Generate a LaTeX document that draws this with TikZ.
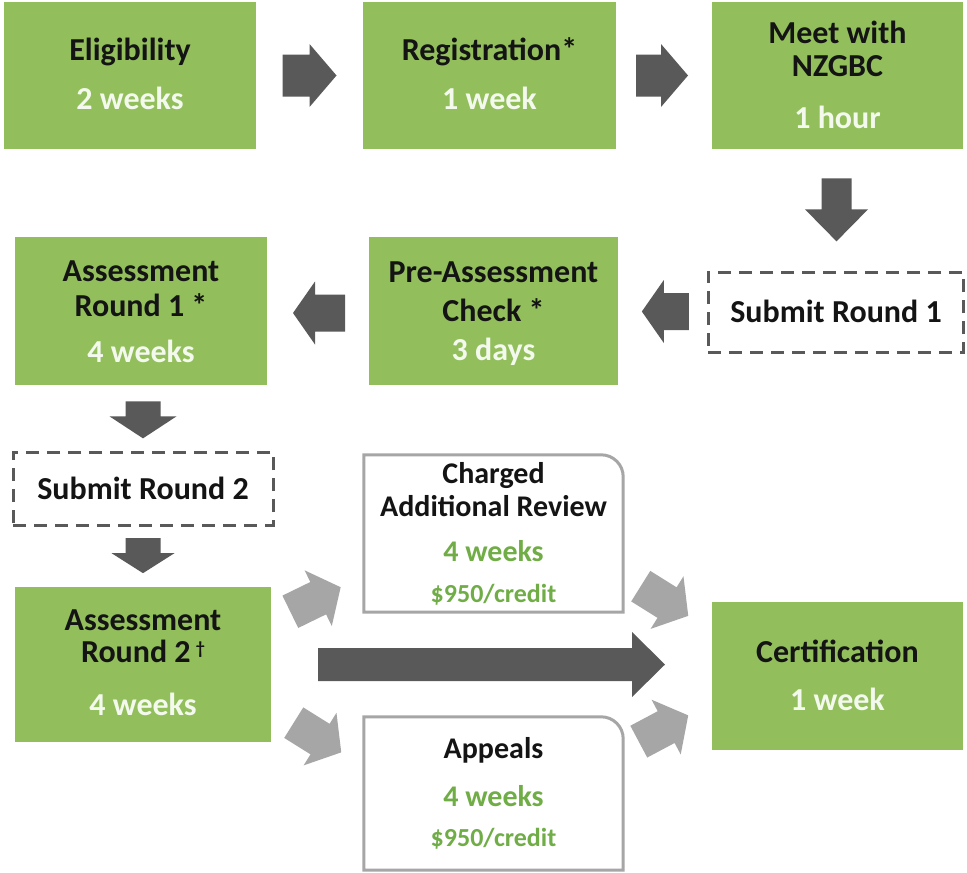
\documentclass[tikz,border=0pt]{standalone}
\usepackage{fontspec}
\setmainfont{Carlito}
\usetikzlibrary{calc}
\definecolor{boxgreen}{RGB}{146,191,92}
\definecolor{subwhite}{RGB}{244,249,238}
\definecolor{darkarr}{RGB}{89,89,89}
\definecolor{lightarr}{RGB}{166,166,166}
\definecolor{txtgreen}{RGB}{112,173,71}
\definecolor{txtblack}{RGB}{20,20,20}
% block arrow: #1 centre, #2 angle, #3 length, #4 body width, #5 head width, #6 head length, #7 colour
\newcommand{\blockarr}[7]{%
  \fill[#7,shift={#1},rotate=#2] (-#3/2,-#4/2) -- (#3/2-#6,-#4/2) -- (#3/2-#6,-#5/2) -- (#3/2,0)
    -- (#3/2-#6,#5/2) -- (#3/2-#6,#4/2) -- (-#3/2,#4/2) -- cycle;}
\begin{document}
\begin{tikzpicture}[x=1pt,y=-1pt,
  gbox/.style={fill=boxgreen,draw=none,inner sep=0pt},
  dbox/.style={draw=darkarr,line width=3pt,dash pattern=on 13pt off 8pt,fill=white,inner sep=0pt},
  wbox/.style={draw=none,inner sep=0pt},
  wline/.style={draw=lightarr,line width=3pt},
  ttl/.style={anchor=base,inner sep=0pt,text=txtblack,font=\fontsize{32}{38}\selectfont\bfseries},
  sub/.style={anchor=base,inner sep=0pt,text=subwhite,font=\fontsize{32}{38}\selectfont\bfseries},
  wttl/.style={anchor=base,inner sep=0pt,text=txtblack,font=\fontsize{30}{36}\selectfont\bfseries},
  gsub/.style={anchor=base,inner sep=0pt,text=txtgreen,font=\fontsize{30}{36}\selectfont\bfseries},
  gprice/.style={anchor=base,inner sep=0pt,text=txtgreen,font=\fontsize{26}{31}\selectfont\bfseries}]
\useasboundingbox (0,0) rectangle (967,873);
\fill[white] (0,0) rectangle (967,873);

% ---- boxes
\node[gbox,minimum width=252pt,minimum height=147pt] (elig) at (130,75.5) {};
\node[gbox,minimum width=253pt,minimum height=147pt] (reg) at (489.5,75.5) {};
\node[gbox,minimum width=251pt,minimum height=147pt] (meet) at (837.5,75.5) {};
\node[dbox,minimum width=255pt,minimum height=80pt] (sub1) at (835.5,312) {};
\node[gbox,minimum width=249pt,minimum height=148pt] (prea) at (493.5,311) {};
\node[gbox,minimum width=252pt,minimum height=148pt] (ar1) at (141,311) {};
\node[dbox,minimum width=260pt,minimum height=73pt] (sub2) at (143,488.5) {};
\node[gbox,minimum width=256pt,minimum height=155pt] (ar2) at (143,664.5) {};
\node[wbox,minimum width=259pt,minimum height=157pt] (car) at (493.5,533.5) {};
\node[wbox,minimum width=259pt,minimum height=153pt] (app) at (493.5,793.5) {};
\node[gbox,minimum width=251pt,minimum height=148pt] (cert) at (837.5,676) {};

\draw[wline] (car.south west) -- (car.north west) [rounded corners=22pt] -- (car.north east) [sharp corners] -- (car.south east) -- cycle;
\draw[wline] (app.south west) -- (app.north west) [rounded corners=22pt] -- (app.north east) [sharp corners] -- (app.south east) -- cycle;

% ---- texts
\node[ttl] (eligT) at (130,60) {Eligibility};
\node[sub] (eligS) at (130,109) {2 weeks};
\node[ttl] (regT) at (489.5,60) {Registration*};
\node[sub] (regS) at (489.5,109) {1 week};
\node[ttl] (meetT1) at (837.5,43) {Meet with};
\node[ttl] (meetT2) at (837.5,76) {NZGBC};
\node[sub] (meetS) at (837.5,128) {1 hour};
\node[ttl] (sub1T) at (836,322) {Submit Round 1};
\node[ttl] (preaT1) at (493.5,282) {Pre-Assessment};
\node[ttl] (preaT2) at (493.5,321) {Check *};
\node[sub] (preaS) at (493.5,360) {3 days};
\node[ttl] (ar1T1) at (141,281) {Assessment};
\node[ttl] (ar1T2) at (141,316) {Round 1 *};
\node[sub] (ar1S) at (141,362) {4 weeks};
\node[ttl] (sub2T) at (143,499) {Submit Round 2};
\node[ttl] (ar2T1) at (143,630) {Assessment};
\node[ttl] (ar2T2) at (143,662) {Round 2\,{\fontsize{18}{20}\selectfont\raisebox{8pt}{\textdagger}}};
\node[sub] (ar2S) at (143,715) {4 weeks};
\node[wttl] (carT1) at (493.5,483) {Charged};
\node[wttl] (carT2) at (493.5,516) {Additional Review};
\node[gsub] (carS) at (493.5,561) {4 weeks};
\node[gprice] (carP) at (493.5,602) {\$950/credit};
\node[wttl] (appT) at (493.5,758) {Appeals};
\node[gsub] (appS) at (493.5,806) {4 weeks};
\node[gprice] (appP) at (493.5,846) {\$950/credit};
\node[ttl] (certT) at (837.5,662) {Certification};
\node[sub] (certS) at (837.5,710) {1 week};

% ---- dark block arrows
\blockarr{($(elig.east)!0.5!(reg.west)$)}{0}{54}{42}{63}{27}{darkarr}
\blockarr{($(reg.east)!0.5!(meet.west)+(-2,0)$)}{0}{52}{42}{63}{27}{darkarr}
\blockarr{($(meet.south)!0.5!(meet.south|-sub1.north)+(-1,0)$)}{-90}{63}{30}{63}{32}{darkarr}
\blockarr{($(sub1.west)!0.5!(prea.east)+(3,0)$)}{180}{47}{37}{63}{22}{darkarr}
\blockarr{($(prea.west)!0.5!(ar1.east)+(1,2)$)}{180}{52}{37}{63}{22}{darkarr}
\blockarr{($(ar1.south)!0.5!(ar1.south|-sub2.north)+(2,2)$)}{-90}{37}{35}{67}{22}{darkarr}
\blockarr{($(sub2.south)!0.5!(sub2.south|-ar2.north)+(0,-1)$)}{-90}{35}{35}{63}{20}{darkarr}
\blockarr{($(ar2.east)!0.5!(ar2.east-|cert.west)$)}{0}{347}{33}{65}{33}{darkarr}

% ---- light block arrows
\blockarr{($(ar2.north east)!0.5!(car.south west)+(-2,0)$)}{26}{56}{36}{62}{25}{lightarr}
\blockarr{($(ar2.south east)!0.5!(app.north west)+(0,8)$)}{-32}{56}{36}{62}{25}{lightarr}
\blockarr{($(car.south east)!0.5!(cert.north west)+(-3,-6)$)}{-32}{56}{36}{62}{25}{lightarr}
\blockarr{($(app.north east)!0.5!(cert.south west)+(-4,-5)$)}{28}{56}{36}{62}{25}{lightarr}
\end{tikzpicture}
\end{document}
